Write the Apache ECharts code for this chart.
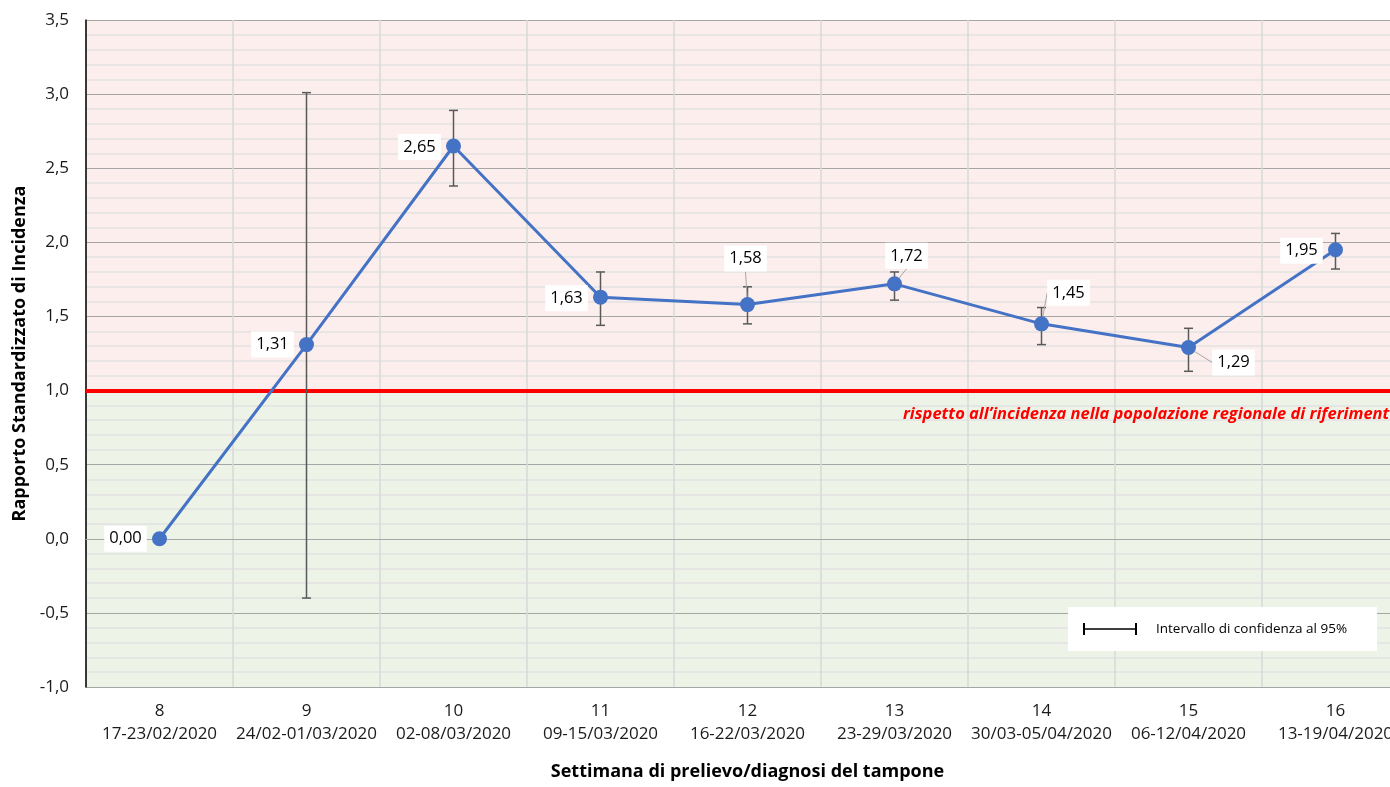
<!DOCTYPE html>
<html>
<head>
<meta charset="utf-8">
<script src="https://cdn.jsdelivr.net/npm/echarts@6/dist/echarts.min.js"></script>
<style>html,body{margin:0;padding:0;background:#fff;overflow:hidden}#c{width:1390px;height:787px}</style>
</head>
<body>
<div id="c"></div>
<script>
// ---- data ----
var weeks = ['8','9','10','11','12','13','14','15','16'];
var dates = ['17-23/02/2020','24/02-01/03/2020','02-08/03/2020','09-15/03/2020','16-22/03/2020','23-29/03/2020','30/03-05/04/2020','06-12/04/2020','13-19/04/2020'];
var values = [0.00, 1.31, 2.65, 1.63, 1.58, 1.72, 1.45, 1.29, 1.95];
var ciLower = [null, -0.40, 2.38, 1.44, 1.45, 1.61, 1.31, 1.13, 1.82];
var ciUpper = [null, 3.01, 2.89, 1.80, 1.70, 1.80, 1.56, 1.42, 2.06];
var refValue = 1.0;
var yMin = -1.0, yMax = 3.5, yStep = 0.5;
var refText = 'rispetto all\u2019incidenza nella popolazione regionale di riferimento';
var ciName = 'Intervallo di confidenza al 95%';
var xTitle = 'Settimana di prelievo/diagnosi del tampone';
var yTitle = 'Rapporto Standardizzato di Incidenza';

// ---- label placement (style) ----
var labelShift = [[-34,0],[-34,0],[-34,1],[-34,1],[-2,-46],[12,-28],[27,-31],[45,15],[-34,1]];
var withLeader = [false,false,false,false,true,true,true,true,false];

var FONT = 'Open Sans';
var chart = echarts.init(document.getElementById('c'));

var categories = weeks.map(function(w,i){ return w + '\n' + dates[i]; });
var errData = weeks.map(function(w,i){ return [i, ciLower[i], ciUpper[i]]; }).filter(function(d){ return d[1] != null; });
var lineData = values.map(function(v,i){
  return { value: v, labelLine: { show: withLeader[i] } };
});
var bandData = [[0, yMax, refValue, 0], [0, refValue, yMin, 1]];
var bandColors = ['#fdeeee', '#edf3e6'];

var option = {
  animation: false,
  backgroundColor: '#ffffff',
  textStyle: { fontFamily: FONT },
  grid: { left: 86, width: 1323, top: 20, height: 667, containLabel: false, outerBoundsMode: 'none' },
  legend: {
    data: [{ name: ciName, itemStyle: { color: '#000' } }],
    left: 1068, top: 607,
    backgroundColor: '#ffffff',
    padding: [15, 30, 15, 15],
    itemWidth: 54, itemHeight: 12,
    icon: 'path://M0,0h2v12h-2z M0,5.2h54v1.6h-54z M52,0h2v12h-2z',
    textStyle: { fontFamily: FONT, fontSize: 13.5, color: '#000', padding: [0,0,0,14] },
    selectedMode: false
  },
  xAxis: {
    type: 'category', data: categories, boundaryGap: true,
    name: xTitle, nameLocation: 'middle', nameGap: 76,
    nameTextStyle: { fontFamily: FONT, fontSize: 18, fontWeight: 'bold', color: '#000', verticalAlign: 'top' },
    axisLine: { show: true, lineStyle: { color: '#a6a6a6', width: 1.2 } },
    axisTick: { show: false },
    axisLabel: { fontFamily: FONT, fontSize: 17, color: '#1a1a1a', lineHeight: 23, margin: 13, interval: 0 },
    splitLine: { show: true, lineStyle: { color: '#d9d9d9', width: 1.5 } }
  },
  yAxis: {
    type: 'value', min: yMin, max: yMax, interval: yStep,
    name: yTitle, nameLocation: 'middle', nameGap: 52, nameRotate: 90,
    nameTextStyle: { fontFamily: FONT, fontSize: 18, fontWeight: 'bold', color: '#000' },
    axisLine: { show: true, lineStyle: { color: '#000', width: 1.5 } },
    axisTick: { show: false },
    axisLabel: { fontFamily: FONT, fontSize: 17, color: '#1a1a1a', margin: 17,
      formatter: function(v){ return v.toFixed(1).replace('.', ','); } },
    splitLine: { show: true, lineStyle: { color: '#a6a6a6', width: 1.2 } },
    minorTick: { show: false, splitNumber: 5 },
    minorSplitLine: { show: true, lineStyle: { color: '#e2e2e2', width: 1.5 } }
  },
  series: [
    {
      type: 'custom', name: 'bands', z: -1, silent: true,
      data: bandData,
      renderItem: function(params, api){
        var cs = params.coordSys;
        var y1 = api.coord([0, api.value(1)])[1];
        var y2 = api.coord([0, api.value(2)])[1];
        return { type: 'rect', shape: { x: cs.x, y: y1, width: cs.width, height: y2 - y1 },
          style: { fill: bandColors[api.value(3)] } };
      },
      markLine: {
        silent: true, symbol: 'none', z: 3,
        data: [{ yAxis: refValue }],
        lineStyle: { color: '#ff0000', width: 4, type: 'solid' },
        label: {
          show: true, position: 'insideEndBottom', formatter: refText,
          distance: [10, 15],
          fontFamily: FONT, fontSize: 16.5, fontWeight: 'bold', fontStyle: 'italic', color: '#ff0000'
        }
      }
    },
    {
      type: 'custom', name: ciName, z: 3,
      itemStyle: { color: '#595959' },
      data: errData,
      renderItem: function(params, api){
        var x = api.value(0);
        var lo = api.coord([x, api.value(1)]);
        var hi = api.coord([x, api.value(2)]);
        var cap = 4.5;
        var st = { stroke: '#595959', lineWidth: 1.5 };
        return { type: 'group', children: [
          { type: 'line', shape: { x1: lo[0], y1: lo[1], x2: hi[0], y2: hi[1] }, style: st },
          { type: 'line', shape: { x1: hi[0]-cap, y1: hi[1], x2: hi[0]+cap, y2: hi[1] }, style: st },
          { type: 'line', shape: { x1: lo[0]-cap, y1: lo[1], x2: lo[0]+cap, y2: lo[1] }, style: st }
        ]};
      }
    },
    {
      type: 'line', name: 'RSI', z: 4,
      data: lineData,
      symbol: 'circle', symbolSize: 15,
      itemStyle: { color: '#4472c4' },
      lineStyle: { color: '#4472c4', width: 3 },
      label: {
        show: true, position: 'inside',
        formatter: function(p){ return p.value.toFixed(2).replace('.', ','); },
        fontFamily: FONT, fontSize: 16.5, color: '#000',
        backgroundColor: '#ffffff', padding: [5, 5, 4, 5]
      },
      labelLine: { show: false, lineStyle: { color: '#a6a6a6', width: 1 } },
      labelLayout: function(p){
        var s = labelShift[p.dataIndex];
        return { dx: s[0], dy: s[1] };
      }
    }
  ]
};
chart.setOption(option);
</script>
</body>
</html>
